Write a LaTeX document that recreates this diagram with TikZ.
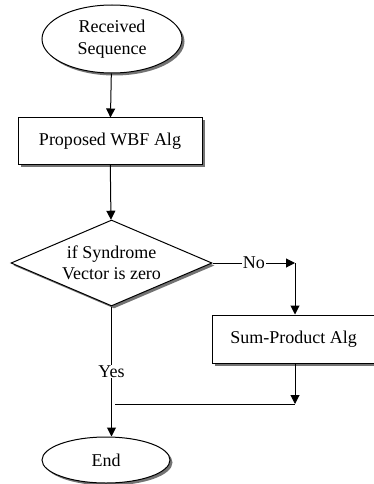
\documentclass[tikz,border=0pt]{standalone}
\usepackage{fontspec}
\setmainfont{Liberation Serif}
\usetikzlibrary{arrows.meta, shapes.geometric, shadows}
\tikzset{
  every picture/.style={line width=1pt},
  shade/.style={drop shadow={shadow xshift=2.5pt, shadow yshift=-2.5pt, fill=black!55, opacity=1}},
  term/.style={ellipse, draw, fill=white, shade, inner sep=0pt, align=center},
  proc/.style={rectangle, draw, fill=white, shade, inner sep=0pt, align=center},
  test/.style={diamond, draw, fill=white, shade, inner sep=0pt, aspect=2.33, align=center},
  arrow/.style={-{Triangle[length=9pt, width=9pt]}},
  tag/.style={fill=white, inner sep=1pt},
}
\begin{document}
\begin{tikzpicture}[x=1pt, y=-1pt, every node/.append style={font=\fontsize{18}{21.5}\selectfont}]
  \useasboundingbox (0,0) rectangle (374,484);
  % nodes
  \node[term, minimum width=140pt, minimum height=68pt] (recv) at (112,39) {Received\\Sequence};
  \node[proc, minimum width=184pt, minimum height=46pt] (wbf) at (110,141) {Proposed WBF Alg};
  \node[test, minimum width=201pt, minimum height=86pt] (syn) at (111.5,263) {if Syndrome\\Vector is zero};
  \node[proc, minimum width=163pt, minimum height=48pt] (sp) at (293.5,339) {Sum-Product Alg};
  \node[term, minimum width=128pt, minimum height=46pt] (end) at (106,460) {End};
  \coordinate (noend) at (295,263);
  \coordinate (join) at (295,404);
  \coordinate (joinl) at (115,404);
  % connectors
  \draw[arrow] (recv) -- (wbf);
  \draw[arrow] (wbf) -- (syn);
  \draw[arrow] (syn.east) -- node[tag] {No} (noend);
  \draw[arrow] (noend) -- (noend |- sp.north);
  \draw[arrow] (noend |- sp.south) -- (join);
  \draw (joinl) -- (join);
  \draw[arrow] (syn.south) -- node[tag] {Yes} (syn.south |- end.north);
\end{tikzpicture}
\end{document}
